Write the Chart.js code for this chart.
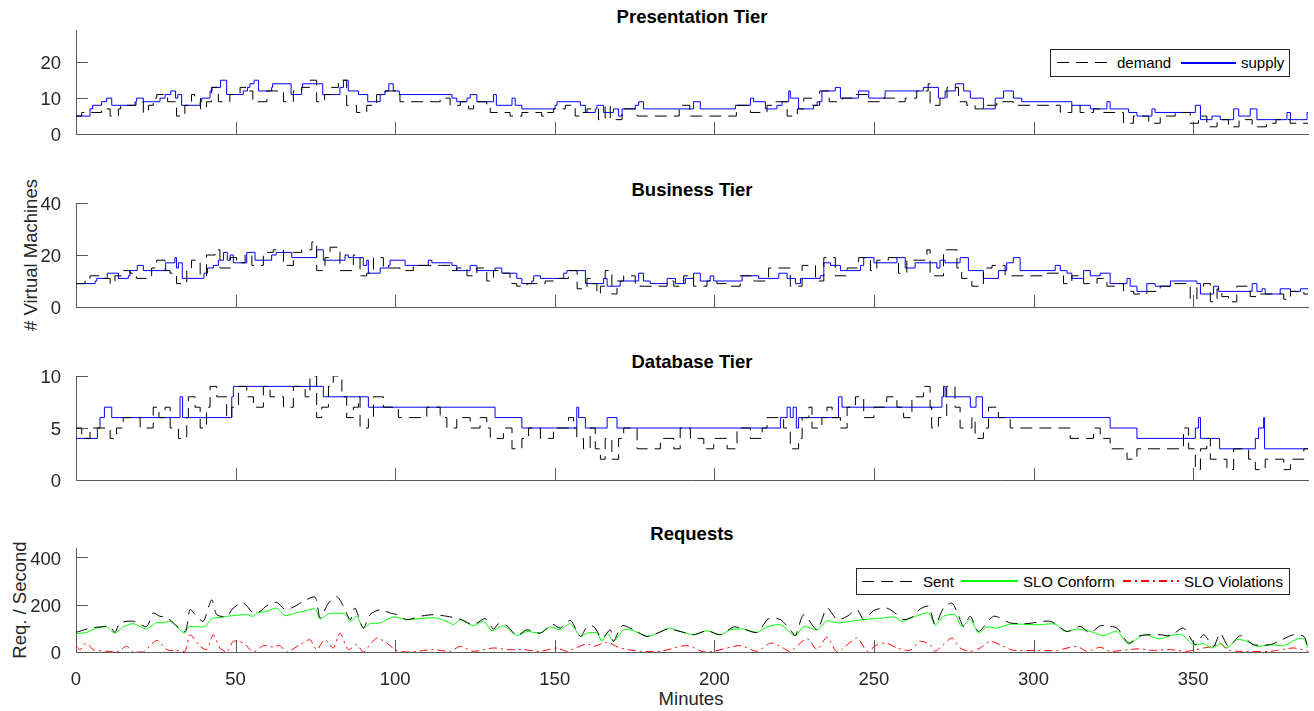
<!DOCTYPE html>
<html>
<head>
<meta charset="utf-8">
<script src="https://cdn.jsdelivr.net/npm/chart.js@4.4.1/dist/chart.umd.min.js"></script>
<style>
body{margin:0;background:#fff;font-family:"Liberation Sans",Arial,sans-serif;color:#262626}
#fig{position:relative;width:1314px;height:711px;overflow:hidden;background:#fff}
canvas{position:absolute;left:0}
.ttl{position:absolute;left:692px;transform:translateX(-50%);font-weight:bold;font-size:18.5px;line-height:20px;color:#000;white-space:nowrap}
.lbl{position:absolute;font-size:18.5px;line-height:20px;white-space:nowrap;color:#262626}
.rot{transform:translate(-50%,-50%) rotate(-90deg)}
.leg{position:absolute;border:1px solid #262626;background:#fff;box-sizing:border-box}
.leg span{position:absolute;top:0;font-size:15px;color:#000;white-space:nowrap}
.leg i{position:absolute;height:2px;display:block}
.dash{background:repeating-linear-gradient(90deg,#000 0 12px,transparent 12px 19px)}
.dashdot{background:repeating-linear-gradient(90deg,#ff0000 0 8px,transparent 8px 12px,#ff0000 12px 14px,transparent 14px 18px)}
</style>
</head>
<body>
<div id="fig">
  <div class="ttl" style="top:7px">Presentation Tier</div>
  <div class="ttl" style="top:180px">Business Tier</div>
  <div class="ttl" style="top:352px">Database Tier</div>
  <div class="ttl" style="top:524px">Requests</div>
  <div class="lbl rot" style="left:31px;top:255px"># Virtual Machines</div>
  <div class="lbl rot" style="left:20px;top:600px">Req. / Second</div>
  <div class="lbl" style="left:691px;top:689px;transform:translateX(-50%)">Minutes</div>

  <canvas id="c1" width="1314" height="133" style="top:15px"></canvas>
  <canvas id="c2" width="1314" height="133" style="top:188px"></canvas>
  <canvas id="c3" width="1314" height="133" style="top:361px"></canvas>
  <canvas id="c4" width="1314" height="164" style="top:533px"></canvas>

  <div class="leg" style="left:1050px;top:49px;width:240px;height:28px;line-height:26px">
    <i class="dash" style="left:6px;top:12px;width:56px;height:1px"></i>
    <span style="left:66px">demand</span>
    <i style="left:130px;top:12px;width:55px;background:#0000ff"></i>
    <span style="left:190px">supply</span>
  </div>
  <div class="leg" style="left:856px;top:568px;width:434px;height:27px;line-height:25px">
    <i class="dash" style="left:5px;top:12px;width:55px;height:1px"></i>
    <span style="left:66px">Sent</span>
    <i style="left:104px;top:11px;width:57px;background:#00ff00"></i>
    <span style="left:166px">SLO Conform</span>
    <i class="dashdot" style="left:266px;top:11px;width:56px"></i>
    <span style="left:327px">SLO Violations</span>
  </div>
</div>
<script>
// ticks
const xTicks = [0, 50, 100, 150, 200, 250, 300, 350];
const presYTicks = [0, 10, 20];
const busYTicks = [0, 20, 40];
const dbYTicks = [0, 5, 10];
const reqYTicks = [0, 200, 400];

// [minute, VMs] change points (stairs)
const presSupply = [[0,5],[4.4,7],[5.2,8],[8.0,9],[9.6,10],[11.2,8],[18.5,9],[19.0,10],[21.1,9],[26.3,10],[27.9,11],[29.7,12],[31.2,10],[31.9,11],[33.1,8],[38.9,9],[39.4,10],[42.0,12],[42.6,13],[45.3,15],[47.2,11],[52.4,12],[53.7,13],[54.5,14],[55.8,15],[57.2,12],[61.3,13],[61.6,14],[67.4,11],[70.7,13],[71.0,14],[77.3,11],[82.7,13],[83.8,15],[85.3,12],[88.5,11],[91.4,9],[95.3,11],[96.8,12],[98.0,14],[99.4,12],[101.3,11],[117.8,10],[119.3,9],[122.5,10],[123.5,11],[125.6,9],[130.8,11],[131.7,8],[136.6,10],[137.6,8],[139.7,7],[150.1,8],[150.7,9],[158.0,8],[159.6,6],[162.7,7],[163.2,8],[165.3,6],[168.4,7],[170.0,5],[171.1,7],[175.2,8],[176.3,9],[177.8,7],[193.5,9],[195.6,7],[206.6,8],[211.3,10],[212.3,9],[216.0,7],[219.6,8],[221.2,9],[223.3,12],[223.8,10],[226.4,7],[231.1,8],[232.2,9],[233.7,12],[237.9,13],[239.5,10],[245.2,12],[248.4,10],[253.5,12],[265.5,13],[270.2,10],[272.3,12],[275.5,14],[278.1,12],[280.2,10],[284.3,7],[288.0,10],[290.6,12],[293.7,10],[296.3,9],[312.0,8],[317.8,7],[323.0,9],[324.0,7],[329.8,6],[332.4,5],[337.1,7],[338.1,6],[350.7,8],[352.3,4],[355.9,5],[358.5,4],[362.7,7],[364.3,5],[367.9,7],[370.0,4],[379.4,6],[380.5,4],[385.7,6],[386,6]];
const presDemand = [[0,5],[1.8,6],[8.0,7],[10.7,5],[13.3,7],[14.0,8],[18.8,9],[21.1,6],[22.7,8],[24.2,10],[25.3,11],[28.7,9],[31.5,5],[34.1,8],[36.2,11],[37.2,10],[39.0,7],[40.9,9],[42.5,13],[44.6,9],[48.2,11],[51.4,13],[53.3,12],[55.4,9],[59.8,12],[65.0,9],[68.1,12],[70.7,13],[73.3,15],[75.4,9],[77.9,11],[80.1,13],[82.2,15],[84.8,8],[87.9,6],[91.1,8],[94.2,11],[96.9,12],[101.5,9],[114.1,10],[117.2,8],[120.4,9],[123.0,7],[124.6,9],[128.7,8],[129.8,6],[136.0,5],[139.7,6],[145.9,5],[147.5,6],[149.6,7],[153.3,8],[156.4,5],[158.0,6],[160.1,7],[163.7,4],[165.8,8],[167.4,4],[171.1,7],[175.8,5],[189.0,8],[192.3,5],[206.9,8],[211.3,6],[216.5,8],[219.2,9],[222.8,5],[226.0,7],[228.0,10],[230.4,8],[233.0,12],[236.0,9],[240.0,10],[244.0,11],[248.0,9],[252.0,10],[257.2,9],[259.8,10],[263.4,12],[267.0,14],[267.6,8],[270.7,10],[272.9,13],[276.5,9],[279.1,8],[281.7,7],[284.3,8],[288.5,9],[293.7,8],[308.4,6],[312.0,8],[314.6,6],[318.8,7],[322.0,6],[328.2,3],[331.3,5],[336.1,3],[339.7,5],[344.4,6],[349.1,3],[351.7,5],[354.3,2],[357.5,4],[361.1,2],[364.4,4],[368.5,2],[373.0,3],[376.0,4],[380.4,3],[386,3]];

const busSupply = [[0,9],[6.0,10],[6.5,11],[9.8,13],[13.3,11],[16.4,12],[16.9,14],[19.2,16],[21.1,14],[28.1,17],[31.0,19],[31.5,15],[32.1,17],[33.3,11],[40.1,13],[41.2,15],[43.0,16],[44.6,18],[46.2,21],[47.4,18],[48.3,20],[49.3,17],[53.5,21],[56.1,18],[61.3,20],[62.7,21],[67.6,19],[75.4,22],[77.5,18],[84.3,20],[85.3,19],[90.0,16],[91.1,18],[91.6,13],[95.3,15],[97.9,16],[98.4,18],[103.1,16],[110.4,18],[111.5,17],[117.8,16],[119.3,14],[123.5,16],[125.6,14],[131.3,15],[133.4,13],[138.1,11],[139.7,9],[142.8,10],[143.4,12],[145.5,11],[152.8,13],[153.8,14],[159.6,9],[165.3,11],[166.4,8],[170.5,10],[176.3,13],[177.8,10],[179.9,9],[185.2,11],[187.8,9],[190.9,11],[193.5,13],[195.6,10],[198.7,12],[199.8,10],[208.7,12],[213.9,11],[220.2,13],[222.8,11],[225.4,9],[227.0,11],[233.2,12],[234.3,17],[236.4,16],[239.5,14],[245.8,16],[246.8,19],[250.0,17],[257.2,19],[259.8,15],[262.9,17],[269.7,15],[270.7,18],[272.3,17],[277.0,19],[279.6,14],[284.3,11],[289.0,14],[291.6,17],[293.7,19],[295.8,14],[306.8,16],[308.4,14],[310.5,13],[312.0,11],[315.7,14],[317.8,12],[320.9,13],[324.0,9],[329.3,11],[330.3,8],[332.4,6],[335.5,9],[338.1,8],[342.9,10],[351.2,9],[352.3,5],[356.4,8],[358.0,6],[368.5,9],[370.0,6],[371.6,7],[372.6,5],[377.3,7],[380.5,6],[383.6,7],[386,7]];
const busDemand = [[0,9],[2.8,10],[4.4,12],[7.5,11],[10.7,9],[12.2,12],[14.8,14],[16.9,13],[19.0,11],[22.1,12],[23.7,15],[25.3,18],[27.9,14],[29.5,13],[31.5,9],[34.7,15],[36.2,18],[38.9,12],[40.9,20],[43.6,22],[45.1,15],[48.3,19],[50.3,17],[53.0,20],[55.1,16],[58.7,21],[61.8,22],[65.0,16],[68.1,21],[70.7,22],[73.9,25],[75.4,14],[78.0,19],[79.6,23],[82.7,14],[86.9,20],[89.0,12],[91.1,13],[93.2,19],[96.3,15],[101.5,14],[105.7,16],[109.9,16],[114.1,16],[117.2,14],[119.3,15],[122.5,12],[125.6,15],[128.7,10],[130.8,14],[133.9,13],[136.0,9],[138.1,8],[141.3,9],[147.0,10],[151.2,11],[154.3,14],[157.0,7],[160.1,11],[161.6,9],[163.2,5],[164.3,8],[165.8,14],[167.9,5],[169.5,10],[171.6,12],[175.2,8],[185.2,10],[187.3,8],[190.4,12],[193.5,8],[197.7,10],[200.8,9],[205.0,8],[208.1,12],[212.3,10],[217.0,15],[223.8,8],[227.5,16],[231.7,10],[234.3,19],[237.9,12],[241.6,15],[245.2,19],[248.9,14],[250.9,18],[254.5,19],[257.7,13],[260.3,18],[266.6,22],[267.6,12],[271.8,22],[276.0,15],[277.5,11],[280.7,8],[284.3,15],[287.0,16],[291.1,12],[304.2,13],[309.4,9],[312.0,12],[315.7,9],[319.9,11],[323.0,8],[325.6,9],[328.2,6],[331.4,5],[335.5,6],[339.7,8],[343.4,9],[349.1,3],[351.2,8],[353.3,9],[355.4,2],[357.5,7],[359.0,4],[361.1,2],[363.7,8],[367.9,4],[371.1,5],[378.4,3],[380.5,6],[384.7,5],[386,5]];

const dbSupply = [[0,4],[6.7,5],[7.5,6],[8.9,7],[11.2,6],[32.6,8],[33.4,6],[48.8,8],[49.3,9],[77.5,8],[91.6,7],[131.3,6],[139.7,5],[156.9,7],[157.5,6],[159.6,5],[166.4,6],[169.5,5],[220.7,6],[222.8,7],[223.8,6],[224.7,7],[225.7,5],[226.4,6],[238.9,8],[240.0,7],[271.3,8],[271.8,9],[272.3,8],[280.2,7],[282.0,8],[284.0,6],[324.0,5],[332.4,4],[350.7,5],[351.7,6],[352.3,4],[358.3,3],[369.5,4],[370.5,5],[372.1,6],[372.4,3],[386,3]];
const dbDemand = [[0,5],[1.8,4],[4.4,5],[10.7,4],[12.7,5],[14.8,6],[20.1,5],[24.2,7],[26.0,6],[27.9,7],[29.5,5],[32.1,4],[34.7,6],[35.2,8],[37.3,7],[38.9,5],[40.9,7],[42.0,9],[44.1,8],[47.2,6],[48.8,7],[50.9,9],[53.5,8],[55.6,7],[58.7,9],[60.8,8],[65.0,7],[68.1,9],[71.8,8],[73.3,10],[75.4,6],[77.0,7],[79.1,9],[80.6,10],[83.3,8],[84.8,6],[86.9,7],[88.5,8],[89.0,5],[91.6,6],[93.2,8],[96.3,7],[101.0,6],[109.9,7],[114.1,6],[116.2,5],[119.3,6],[123.5,5],[126.6,6],[128.7,5],[129.8,4],[133.9,5],[136.6,3],[139.7,4],[141.8,5],[145.5,4],[149.6,5],[154.3,6],[155.9,5],[156.9,4],[159.0,3],[161.1,5],[162.7,3],[164.3,2],[165.8,4],[167.9,2],[170.0,4],[171.6,5],[175.8,3],[183.1,4],[187.3,3],[189.3,5],[192.5,4],[196.7,3],[199.8,4],[204.0,3],[207.1,5],[211.3,4],[215.0,5],[216.5,6],[221.7,5],[223.8,3],[226.4,4],[227.5,6],[229.6,7],[230.6,5],[233.7,6],[235.3,7],[236.9,6],[239.5,5],[241.6,7],[244.2,8],[246.8,6],[250.0,7],[254.0,8],[257.2,7],[259.3,6],[261.9,8],[265.5,9],[267.6,7],[268.1,5],[270.2,6],[272.8,9],[275.4,7],[277.0,5],[280.7,6],[281.7,4],[284.3,5],[285.9,7],[289.0,6],[292.7,5],[311.5,4],[318.8,5],[320.9,4],[324.0,3],[329.3,2],[332.4,3],[347.0,5],[348.6,3],[350.7,1],[352.3,3],[354.3,4],[355.4,2],[360.6,1],[362.7,3],[367.4,2],[369.5,1],[372.6,2],[378.4,1],[380.5,2],[384.7,3],[386,3]];

// [minute, requests/second]
const reqSent = [[0,83],[4.4,101],[7.5,106],[10.7,108],[12.2,83],[13.8,123],[18.0,130],[22.1,108],[24.2,165],[26.3,151],[28.4,148],[30.5,123],[34.2,87],[35.7,179],[37.8,151],[39.9,130],[42.5,221],[44.1,158],[47.2,151],[49.3,186],[52.4,207],[55.6,165],[57.7,172],[59.8,196],[62.9,210],[65.5,179],[68.1,190],[71.2,214],[74.9,232],[76.5,144],[79.1,207],[81.7,235],[83.8,193],[85.9,137],[87.4,186],[90.0,101],[92.1,158],[95.3,179],[98.4,165],[100.5,158],[103.6,137],[107.8,151],[112.0,158],[116.2,151],[120.4,139],[124.5,115],[128.2,141],[130.8,97],[132.4,120],[135.0,111],[138.1,70],[141.3,94],[145.5,80],[149.1,118],[151.7,101],[154.9,134],[158.0,66],[160.1,106],[162.2,108],[164.8,59],[167.4,94],[168.4,45],[171.1,111],[174.7,94],[178.9,66],[183.1,85],[185.2,97],[189.3,87],[193.5,73],[197.7,90],[201.9,73],[206.1,106],[209.2,97],[213.4,83],[217.0,141],[220.7,137],[223.8,94],[225.4,69],[228.0,158],[232.2,94],[235.3,186],[238.5,137],[241.6,151],[244.7,179],[246.8,137],[250.0,176],[254.0,186],[256.6,165],[259.3,137],[262.4,151],[264.5,182],[267.1,193],[269.2,115],[271.8,186],[274.4,207],[276.0,172],[278.1,108],[280.2,151],[282.8,87],[287.5,151],[292.7,123],[297.9,120],[305.2,130],[310.5,87],[314.6,108],[317.8,80],[320.9,111],[326.1,101],[329.8,38],[333.4,69],[339.7,73],[342.9,69],[347.0,101],[350.7,31],[353.3,73],[356.4,24],[358.5,80],[361.1,24],[364.8,69],[369.0,31],[374.2,31],[377.3,49],[381.5,73],[384.7,66],[386,17]];
const reqConform = [[0,77],[3.3,83],[6.5,101],[9.6,106],[12.2,80],[14.8,106],[18.0,120],[22.1,97],[25.3,125],[27.4,123],[29.5,130],[32.6,94],[34.2,80],[35.2,106],[40.4,108],[42.5,141],[45.1,146],[47.2,151],[49.3,154],[53.5,158],[55.6,151],[56.6,165],[59.8,172],[62.9,186],[65.5,154],[68.1,162],[71.2,172],[74.9,182],[76.5,139],[79.1,161],[84.3,161],[85.9,130],[88.0,151],[90.0,101],[92.1,120],[95.3,123],[99.4,148],[103.6,137],[107.8,141],[113.0,144],[117.2,123],[118.3,115],[120.4,137],[124.5,111],[127.7,130],[130.3,90],[133.9,111],[138.1,70],[141.3,87],[145.5,80],[148.6,106],[151.7,94],[154.9,120],[158.0,66],[160.1,80],[163.2,80],[164.8,45],[166.4,80],[168.4,45],[171.6,94],[174.7,90],[178.9,66],[183.1,85],[186.2,101],[189.3,87],[193.5,73],[197.7,90],[201.9,73],[205.0,94],[209.2,97],[213.4,83],[216.5,106],[220.7,115],[225.4,69],[228.0,108],[232.2,94],[235.3,132],[238.5,123],[242.6,130],[246.8,137],[253.0,144],[256.6,148],[258.7,130],[262.4,148],[267.1,165],[269.2,115],[271.8,151],[275.4,158],[277.5,108],[280.2,137],[282.8,80],[285.4,106],[288.5,101],[292.7,118],[301.1,115],[306.8,118],[309.9,87],[313.6,97],[317.8,87],[322.0,69],[326.1,87],[329.8,34],[333.4,66],[335.5,73],[339.2,55],[342.9,69],[346.5,73],[350.2,31],[353.3,35],[355.9,17],[358.5,35],[360.6,17],[363.7,52],[366.9,45],[370.0,24],[374.2,31],[378.4,27],[382.6,55],[384.7,55],[386,17]];
const reqViolations = [[0,24],[1.3,10],[3.3,38],[5.4,10],[9.6,3],[12.7,0],[15.9,24],[18.0,0],[21.1,0],[25.3,49],[28.4,10],[31.6,6],[34.2,3],[35.7,73],[38.9,24],[41.0,10],[43.0,73],[45.1,17],[47.2,0],[49.3,45],[52.4,38],[55.6,0],[58.7,27],[61.8,21],[63.9,27],[66.0,0],[70.2,31],[73.3,52],[75.4,10],[78.0,52],[80.6,17],[82.7,80],[85.3,10],[88.0,31],[90.0,0],[94.2,59],[97.3,38],[100.5,6],[104.6,0],[111.9,10],[117.2,3],[120.4,24],[124.5,3],[130.8,17],[135.0,10],[140.2,10],[145.5,3],[150.7,17],[153.8,3],[160.1,35],[162.2,24],[166.4,41],[170.5,17],[176.8,3],[183.1,3],[191.4,27],[196.7,0],[199.8,3],[208.1,27],[213.4,3],[217.6,38],[220.7,24],[223.8,3],[229.0,56],[232.2,10],[235.3,63],[238.5,0],[244.7,59],[247.9,3],[251.0,31],[253.8,38],[257.2,17],[261.3,7],[264.5,45],[267.6,31],[269.2,3],[274.4,59],[277.0,17],[280.2,3],[283.3,17],[286.4,45],[290.6,24],[293.7,7],[301.1,7],[307.3,7],[313.6,24],[316.7,3],[320.9,20],[324.0,3],[332.4,13],[337.6,7],[342.9,10],[348.1,3],[353.3,17],[356.4,24],[358.5,38],[360.6,10],[363.7,3],[374.2,3],[381.5,17],[386,3]];

const axisColor = '#5a5a5a';
const tickColor = '#262626';
Chart.defaults.font.family = '"Liberation Sans", Arial, sans-serif';

const toPts = arr => arr.map(([x, y]) => ({x: x, y: y}));

const stairs = (arr, color, dash) => ({
  data: toPts(arr), borderColor: color, borderWidth: 1, borderDash: dash || [],
  stepped: true, pointRadius: 0, fill: false
});
const curve = (arr, color, dash) => ({
  data: toPts(arr), borderColor: color, borderWidth: 1, borderDash: dash || [],
  tension: 0.25, pointRadius: 0, fill: false
});

// matlab style ticks pointing into the plot
const inwardTicks = {
  id: 'inwardTicks',
  beforeDatasetsDraw(chart) {
    const {ctx, chartArea: a, scales: {x, y}} = chart;
    ctx.save();
    ctx.strokeStyle = axisColor;
    ctx.lineWidth = 1;
    ctx.beginPath();
    x.ticks.forEach(t => {
      const px = Math.round(x.getPixelForValue(t.value)) + 0.5;
      ctx.moveTo(px, a.bottom);
      ctx.lineTo(px, a.bottom - 12);
    });
    y.ticks.forEach(t => {
      const py = Math.round(y.getPixelForValue(t.value)) + 0.5;
      ctx.moveTo(a.left, py);
      ctx.lineTo(a.left + 12, py);
    });
    ctx.stroke();
    ctx.restore();
  }
};

function drawPanel(id, datasets, yMax, yTicks, xh, showX) {
  return new Chart(document.getElementById(id), {
    type: 'line',
    data: {datasets: datasets},
    options: {
      responsive: false,
      animation: false,
      events: [],
      layout: {padding: {top: 15, right: 6, bottom: 0, left: 0}},
      plugins: {legend: {display: false}, tooltip: {enabled: false}},
      scales: {
        x: {
          type: 'linear', min: 0, max: 386,
          grid: {display: false},
          border: {display: true, color: axisColor, width: 1},
          ticks: {display: showX, padding: 9, color: tickColor, font: {size: 18.5}, maxRotation: 0, autoSkip: false},
          afterBuildTicks: s => { s.ticks = xTicks.map(v => ({value: v})); },
          afterFit: s => { s.height = xh; s.paddingLeft = 0; s.paddingRight = 0; }
        },
        y: {
          type: 'linear', min: 0, max: yMax,
          grid: {display: false},
          border: {display: true, color: axisColor, width: 1},
          ticks: {padding: 7, labelOffset: 2, color: tickColor, font: {size: 18.5}},
          afterBuildTicks: s => { s.ticks = yTicks.map(v => ({value: v})); },
          afterFit: s => { s.width = 76; s.paddingTop = 0; s.paddingBottom = 0; }
        }
      }
    },
    plugins: [inwardTicks]
  });
}

drawPanel('c1', [
  stairs(presDemand, '#000000', [12, 7]),
  stairs(presSupply, '#0000ff')
], 29, presYTicks, 14, false);

drawPanel('c2', [
  stairs(busDemand, '#000000', [12, 7]),
  stairs(busSupply, '#0000ff')
], 40, busYTicks, 14, false);

drawPanel('c3', [
  stairs(dbDemand, '#000000', [12, 7]),
  stairs(dbSupply, '#0000ff')
], 10, dbYTicks, 14, false);

drawPanel('c4', [
  curve(reqSent, '#000000', [12, 7]),
  curve(reqConform, '#00ff00'),
  curve(reqViolations, '#ff0000', [8, 4, 2, 4])
], 440, reqYTicks, 45, true);
</script>
</body>
</html>
